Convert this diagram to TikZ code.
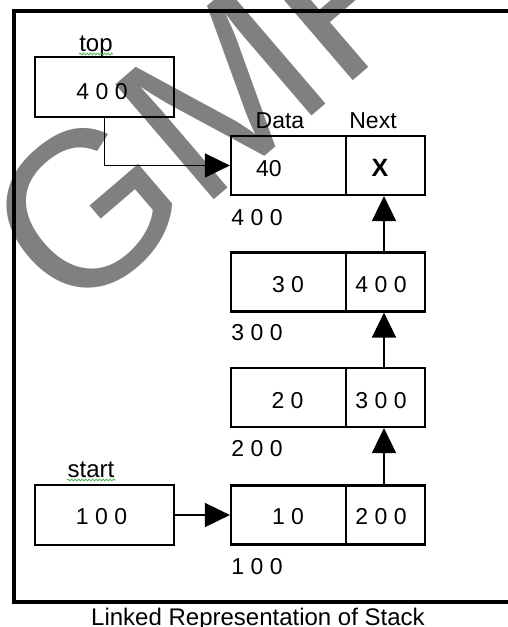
\documentclass[tikz,border=0pt]{standalone}
\usepackage{fontspec}
\setmainfont{Liberation Sans}
\usetikzlibrary{arrows.meta,decorations.pathmorphing}
\definecolor{wmgray}{RGB}{128,128,128}
\definecolor{spell}{RGB}{90,180,90}
\begin{document}
\begin{tikzpicture}[x=1pt,y=-1pt,
  cell/.style={draw, line width=2.2pt, inner sep=0pt, minimum height=59pt},
  txt/.style={inner sep=0pt, font=\fontsize{23}{27}\selectfont},
  lbl/.style={inner sep=0pt, anchor=base, font=\fontsize{24}{28}\selectfont},
  conn/.style={line width=1.7pt, -{Triangle[length=25pt,width=24pt]}},
  spellline/.style={spell, line width=0.9pt, decorate, decoration={snake, amplitude=0.9pt, segment length=3.5pt}}]
\useasboundingbox (0,0) rectangle (508,627);
\clip (0,0) rectangle (508,627);
\fill[white] (0,0) rectangle (508,627);
% watermark
\node[rotate=40.6, anchor=base west, inner sep=0pt, text=wmgray, font=\fontsize{220}{220}\selectfont] (wm) at (70,323) {GMP};
% frame
\coordinate (fa) at (530,11);
\coordinate (fb) at (14,11);
\coordinate (fc) at (14,602);
\coordinate (fd) at (530,602);
\draw[line width=3.5pt] (fa) -- (fb) -- (fc) -- (fd);
% pointer boxes
\node[cell, minimum width=139pt, minimum height=60pt] (topbox) at (104.5,87) {};
\node[cell, minimum width=139pt, minimum height=60pt] (startbox) at (104.5,515) {};
% list nodes
\node[cell, minimum width=115pt] (n40d) at (288.5,165.5) {};
\node[cell, minimum width=79pt] (n40n) at (385.5,165.5) {};
\node[cell, minimum width=115pt] (n30d) at (288.5,282) {};
\node[cell, minimum width=79pt] (n30n) at (385.5,282) {};
\node[cell, minimum width=115pt] (n20d) at (288.5,397.5) {};
\node[cell, minimum width=79pt] (n20n) at (385.5,397.5) {};
\node[cell, minimum width=115pt] (n10d) at (288.5,515) {};
\node[cell, minimum width=79pt] (n10n) at (385.5,515) {};
% texts
\node[lbl] (toplbl) at (96,51) {top};
\node[lbl] (startlbl) at (91,477) {start};
\draw[spellline] (79,54) -- (113,54);
\draw[spellline] (67,480) -- (116,480);
\node[txt] (topval) at (102,91.5) {4 0 0};
\node[txt] (startval) at (101.5,517) {1 0 0};
\node[txt] (datalbl) at (280,121) {Data};
\node[txt] (nextlbl) at (373,121) {Next};
\node[txt] (v40) at (269,168.5) {40};
\node[inner sep=0pt, font=\fontsize{25}{29}\selectfont\bfseries] (vx) at (380,167.5) {X};
\node[txt] (v30) at (288,285) {3 0};
\node[txt] (p30) at (381,285) {4 0 0};
\node[txt] (v20) at (287.5,401) {2 0};
\node[txt] (p20) at (381,401) {3 0 0};
\node[txt] (v10) at (288,517) {1 0};
\node[txt] (p10) at (381,517) {2 0 0};
\node[txt] (a40) at (257,217.5) {4 0 0};
\node[txt] (a30) at (257,332.5) {3 0 0};
\node[txt] (a20) at (257,449) {2 0 0};
\node[txt] (a10) at (257,566.5) {1 0 0};
\node[lbl] (caption) at (258,625) {Linked Representation of Stack};
% connectors
\draw[conn] (topbox.south) |- (n40d.west);
\draw[conn] (startbox.east) -- (n10d.west);
\draw[conn] ([xshift=-1.5pt]n10n.north) -- ([xshift=-1.5pt]n20n.south);
\draw[conn] ([xshift=-1.5pt]n20n.north) -- ([xshift=-1.5pt]n30n.south);
\draw[conn] ([xshift=-1.5pt]n30n.north) -- ([xshift=-1.5pt]n40n.south);
\end{tikzpicture}
\end{document}
